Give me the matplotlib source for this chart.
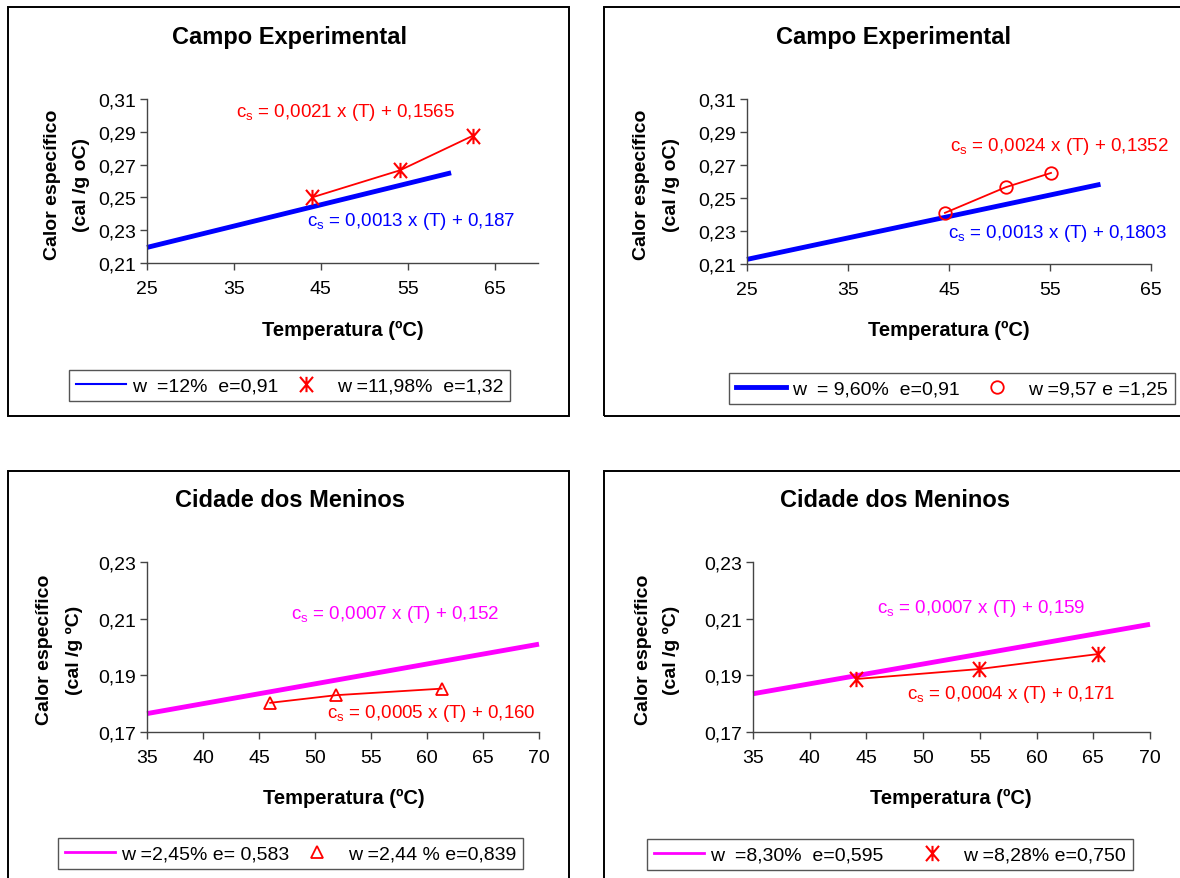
import matplotlib
matplotlib.use("Agg")
import matplotlib.pyplot as plt
from matplotlib.path import Path
from matplotlib.lines import Line2D
from matplotlib.patches import Rectangle
from matplotlib.ticker import FuncFormatter
import numpy as np

plt.rcParams['font.family'] = ['Liberation Sans', 'DejaVu Sans']
plt.rcParams['mathtext.fontset'] = 'custom'
plt.rcParams['mathtext.rm'] = 'Liberation Sans'
plt.rcParams['mathtext.it'] = 'Liberation Sans:italic'

W, H = 1180, 879

# Campo Experimental - medidas
ce1_t = [44.0, 54.1, 62.5]
ce1_cs = [0.2500, 0.2665, 0.2876]
ce2_t = [44.6, 50.6, 55.1]
ce2_cs = [0.2410, 0.2565, 0.2652]
# Cidade dos Meninos - medidas
cm1_t = [46.0, 51.9, 61.3]
cm1_cs = [0.1803, 0.1830, 0.1853]
cm2_t = [44.1, 54.9, 65.4]
cm2_cs = [0.1887, 0.1922, 0.1975]

# retas ajustadas (coef. angular, linear) e faixa de T
ce1_fit = (0.0013, 0.187)
ce2_fit = (0.0013, 0.1803)
cm1_fit = (0.0007, 0.152)
cm2_fit = (0.0007, 0.159)
ce_fit_range = [25, 60]
cm_fit_range = [35, 70]

ce_ticks_x = [25, 35, 45, 55, 65]
ce_ticks_y = [0.21, 0.23, 0.25, 0.27, 0.29, 0.31]
cm_ticks_x = [35, 40, 45, 50, 55, 60, 65, 70]
cm_ticks_y = [0.17, 0.19, 0.21, 0.23]

BLUE = '#0000ff'
RED = '#ff0000'
MAG = '#ff00ff'
AXC = '#444444'

asterisco = Path([(-0.85, -1), (0.85, 1), (-0.85, 1), (0.85, -1), (0, -1), (0, 1)],
                 [Path.MOVETO, Path.LINETO, Path.MOVETO, Path.LINETO, Path.MOVETO, Path.LINETO])


def fx(x):
    return x / W


def fy(y):
    return 1 - y / H


fig = plt.figure(figsize=(W / 100, H / 100), dpi=100)

# molduras dos quatro graficos
for (l, t, r, b) in [(8, 8, 569, 417), (604, 8, 1195, 417), (8, 472, 569, 895), (604, 472, 1195, 895)]:
    fig.add_artist(Rectangle((fx(l), fy(b)), (r - l) / W, (b - t) / H, transform=fig.transFigure,
                             fill=False, ec='black', lw=1.4))


def make_axes(l, t, r, b, xlim, ylim, xt, yt):
    ax = fig.add_axes([fx(l), fy(b), (r - l) / W, (b - t) / H])
    ax.set_xlim(*xlim)
    ax.set_ylim(*ylim)
    ax.set_xticks(xt)
    ax.set_yticks(yt)
    ax.xaxis.set_major_formatter(FuncFormatter(lambda v, p: f"{v:.0f}"))
    ax.yaxis.set_major_formatter(FuncFormatter(lambda v, p: f"{v:.2f}".replace('.', ',')))
    for s in ['top', 'right']:
        ax.spines[s].set_visible(False)
    for s in ['left', 'bottom']:
        ax.spines[s].set_color(AXC)
        ax.spines[s].set_linewidth(1.0)
    ax.tick_params(direction='out', length=5, width=1, colors=AXC, labelcolor='black', labelsize=14)
    ax.tick_params(axis='x', pad=7)
    ax.tick_params(axis='y', pad=3)
    ax.patch.set_alpha(0)
    return ax


def fit_line(ax, fit, rng, color, lw):
    t = np.array(rng, dtype=float)
    ax.plot(t, fit[0] * t + fit[1], color=color, lw=lw, solid_capstyle='butt', clip_on=False)


def texts(title, tcx, tby, xcx, xby, ylx1, ylx2, ycy, unit):
    fig.text(fx(tcx), fy(tby), title, ha='center', va='baseline', fontsize=17, fontweight='bold')
    fig.text(fx(xcx), fy(xby), 'Temperatura (ºC)', ha='center', va='baseline', fontsize=14.5,
             fontweight='bold')
    fig.text(fx(ylx1), fy(ycy), 'Calor específico', ha='center', va='center', rotation=90,
             fontsize=14, fontweight='bold')
    fig.text(fx(ylx2), fy(ycy), unit, ha='center', va='center', rotation=90,
             fontsize=14, fontweight='bold')


def eq(x, y, s, color):
    fig.text(fx(x), fy(y), r'$\mathrm{c_s}$' + s, ha='left', va='baseline', fontsize=13.5, color=color)


def legend(ax, handles, labels_, x, y, colsp=0.3):
    lg = ax.legend(handles, labels_, loc='upper left', bbox_to_anchor=(fx(x), fy(y)),
                   bbox_transform=fig.transFigure, ncol=2, fontsize=14, handlelength=2.6,
                   handletextpad=0.3, columnspacing=colsp, borderpad=0.35, borderaxespad=0,
                   fancybox=False, framealpha=1, edgecolor='#555555')
    lg.get_frame().set_linewidth(1.0)


# --- Campo Experimental, w = 12%
ax1 = make_axes(147, 100, 538, 264, (25, 70), (0.21, 0.31), ce_ticks_x, ce_ticks_y)
fit_line(ax1, ce1_fit, ce_fit_range, BLUE, 3.5)
ax1.plot(ce1_t, ce1_cs, color=RED, lw=1.3, marker=asterisco, ms=11, mec=RED, mfc='none', mew=1.5,
         clip_on=False)
texts('Campo Experimental', 290, 44, 343, 336, 53, 81, 185, '(cal /g oC)')
eq(236, 117, ' = 0,0021 x (T) + 0,1565', RED)
eq(307, 226, ' = 0,0013 x (T) + 0,187', BLUE)
legend(ax1, [Line2D([], [], color=BLUE, lw=1.5),
             Line2D([], [], ls='none', marker=asterisco, ms=11, mec=RED, mfc='none', mew=1.5)],
       ['w  =12%  e=0,91', 'w =11,98%  e=1,32'], 69, 371, 0.1)

# --- Campo Experimental, w = 9,60%
ax2 = make_axes(747, 100, 1151, 265, (25, 65), (0.21, 0.31), ce_ticks_x, ce_ticks_y)
fit_line(ax2, ce2_fit, ce_fit_range, BLUE, 3.5)
ax2.plot(ce2_t, ce2_cs, color=RED, lw=1.3, marker='o', ms=9, mec=RED, mfc='none', mew=1.3,
         clip_on=False)
texts('Campo Experimental', 893, 44, 949, 336, 641, 671, 185, '(cal /g oC)')
eq(950, 151, ' = 0,0024 x (T) + 0,1352', RED)
eq(948, 238, ' = 0,0013 x (T) + 0,1803', BLUE)
legend(ax2, [Line2D([], [], color=BLUE, lw=3.5),
             Line2D([], [], ls='none', marker='o', ms=9, mec=RED, mfc='none', mew=1.3)],
       ['w  = 9,60%  e=0,91', 'w =9,57 e =1,25'], 729, 374, 0.6)

# --- Cidade dos Meninos, w = 2,45%
ax3 = make_axes(147, 563, 539, 733, (35, 70), (0.17, 0.23), cm_ticks_x, cm_ticks_y)
fit_line(ax3, cm1_fit, cm_fit_range, MAG, 3.5)
ax3.plot(cm1_t, cm1_cs, color=RED, lw=1.3, marker='^', ms=9, mec=RED, mfc='none', mew=1.3,
         clip_on=False)
texts('Cidade dos Meninos', 290, 507, 344, 804, 45, 74, 650, '(cal /g ºC)')
eq(291, 619, ' = 0,0007 x (T) + 0,152', MAG)
eq(327, 718, ' = 0,0005 x (T) + 0,160', RED)
legend(ax3, [Line2D([], [], color=MAG, lw=2),
             Line2D([], [], ls='none', marker='^', ms=9, mec=RED, mfc='none', mew=1.3)],
       ['w =2,45% e= 0,583', 'w =2,44 % e=0,839'], 58, 839, 0.1)

# --- Cidade dos Meninos, w = 8,30%
ax4 = make_axes(753, 563, 1150, 733, (35, 70), (0.17, 0.23), cm_ticks_x, cm_ticks_y)
fit_line(ax4, cm2_fit, cm_fit_range, MAG, 3.5)
ax4.plot(cm2_t, cm2_cs, color=RED, lw=1.3, marker=asterisco, ms=11, mec=RED, mfc='none', mew=1.5,
         clip_on=False)
texts('Cidade dos Meninos', 895, 507, 951, 804, 643, 671, 650, '(cal /g ºC)')
eq(877, 613, ' = 0,0007 x (T) + 0,159', MAG)
eq(907, 699, ' = 0,0004 x (T) + 0,171', RED)
legend(ax4, [Line2D([], [], color=MAG, lw=2),
             Line2D([], [], ls='none', marker=asterisco, ms=11, mec=RED, mfc='none', mew=1.5)],
       ['w  =8,30%  e=0,595', 'w =8,28% e=0,750'], 647, 840, 1.2)

fig.savefig('out.png', dpi=100)
